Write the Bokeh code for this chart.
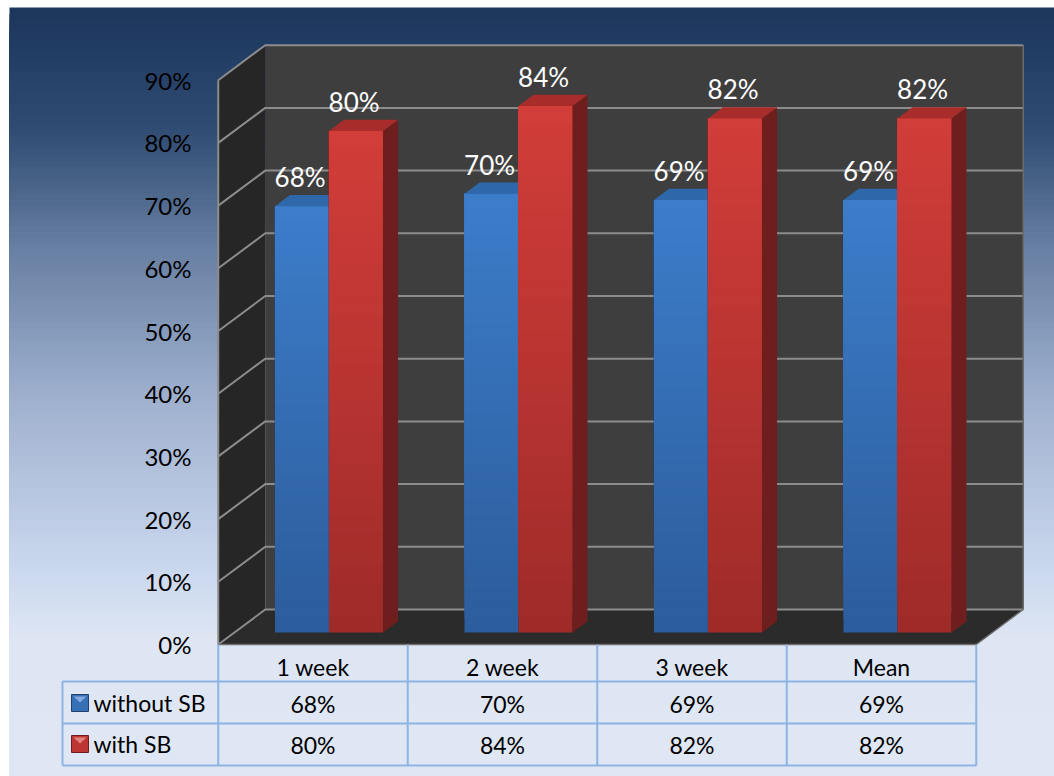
from bokeh.plotting import figure
from bokeh.models import Range1d
from bokeh.core.properties import value
from bokeh.embed import file_html
from bokeh.resources import INLINE

# ---------------- data ----------------
categories = ["1 week", "2 week", "3 week", "Mean"]
without_sb = [68, 70, 69, 69]
with_sb = [80, 84, 82, 82]
series_names = ["without SB", "with SB"]
y_ticks = [0, 10, 20, 30, 40, 50, 60, 70, 80, 90]
y_max = 90

# ---------------- geometry (pixel <-> data) ----------------
W, H = 1054, 776
PXX = 189.5      # px per category
PXY = 6.27       # px per percent
X0, Y0 = 312.5, 644.0   # px of category 0 centre / 0% on the front plane
DX, DY = 47 / PXX, 35 / PXY   # full-depth offset in data units
D0, D1 = 0.34, 0.66           # bar depth span
BAR_W = 54 / PXX
FONT = value("Lato")


def px(xp):
    return (xp - X0) / PXX


def py(yp):
    return (Y0 - yp) / PXY


def mix(c1, c2, t):
    return "#%02x%02x%02x" % tuple(int(round(a + (b - a) * t)) for a, b in zip(c1, c2))


p = figure(width=W, height=H, output_backend="svg", toolbar_location=None,
           x_range=Range1d(px(0), px(W)), y_range=Range1d(py(H), py(0)),
           x_axis_location=None, y_axis_location=None, min_border=0,
           background_fill_color="white", border_fill_color="white")
p.grid.visible = False
p.outline_line_color = None

# ---------------- background gradient (nested strips, no seams) ----------------
stops = [(7, (27, 53, 91)), (130, (48, 76, 114)), (250, (104, 128, 163)), (400, (160, 177, 207)),
         (560, (200, 214, 237)), (640, (222, 230, 244)), (776, (223, 231, 244))]
bl, br, bb, bt, bc = [], [], [], [], []
n = 120
for k in range(n):
    y_a = 7 + (H - 7) * k / n
    y_b = 7 + (H - 7) * (k + 1) / n
    ym = (y_a + y_b) / 2
    for (s0, c0), (s1, c1) in zip(stops[:-1], stops[1:]):
        if s0 <= ym <= s1:
            col = mix(c0, c1, (ym - s0) / (s1 - s0))
            break
    bl.append(px(9)); br.append(px(W + 2)); bt.append(py(y_a)); bb.append(py(H + 2)); bc.append(col)
p.quad(left=bl, right=br, bottom=bb, top=bt, fill_color=bc, line_color=None)

# ---------------- walls ----------------
xL = -0.5
xR = len(categories) - 0.5
p.patch([xL, xL + DX, xL + DX, xL], [0, DY, y_max + DY, y_max], fill_color="#262626", line_color=None)
p.patch([xL + DX, xR + DX, xR + DX, xL + DX], [DY, DY, y_max + DY, y_max + DY], fill_color="#3e3e3e",
        line_color=None)
p.patch([xL, xR, xR + DX, xL + DX], [0, 0, DY, DY], fill_color="#2b2b2b", line_color=None)

# gridlines
gx, gy = [], []
for t in y_ticks:
    gx.append([xL, xL + DX, xR + DX])
    gy.append([t, t + DY, t + DY])
p.multi_line(gx, gy, line_color="#8c8c8c", line_width=2)
p.line([xL, xL], [0, y_max], line_color="#8c8c8c", line_width=2)
p.line([xR + DX, xR + DX], [DY, y_max + DY], line_color="#6a6a6a", line_width=1.5)
p.line([xL, xR, xR + DX], [0, 0, DY], line_color="#6e6e6e", line_width=1.5)

# ---------------- bars ----------------
face = {
    0: dict(top=(60, 125, 202), bot=(44, 92, 155), cap="#2f67ab", side=(36, 74, 125)),
    1: dict(top=(210, 61, 57), bot=(158, 43, 41), cap="#a82d2a", side=(122, 34, 32)),
}
for s, vals in enumerate([without_sb, with_sb]):
    f = face[s]
    ql, qr, qb, qt, qc = [], [], [], [], []
    pxs, pys, pcs = [], [], []
    for i, v in enumerate(vals):
        xl = i + D0 * DX + (s - 1) * BAR_W
        xr = xl + BAR_W
        base = D0 * DY
        top = v + D0 * DY
        ddx, ddy = (D1 - D0) * DX, (D1 - D0) * DY
        m = 30
        for k in range(m):
            y_a = base + (top - base) * k / m
            t = 1 - (k + 0.5) / m
            ql.append(xl); qr.append(xr)
            qb.append(y_a); qt.append(top)
            qc.append(mix(f["top"], f["bot"], t))
        # side face
        pxs.append([xr, xr + ddx, xr + ddx, xr]); pys.append([base, base + ddy, top + ddy, top])
        pcs.append(mix(f["side"], (0, 0, 0), 0.1))
        # top face
        pxs.append([xl, xr, xr + ddx, xl + ddx]); pys.append([top, top, top + ddy, top + ddy])
        pcs.append(f["cap"])
    p.quad(left=ql, right=qr, bottom=qb, top=qt, fill_color=qc, line_color=None)
    p.patches(pxs, pys, fill_color=pcs, line_color=None)

# data labels
for s, vals in enumerate([without_sb, with_sb]):
    lx = [i + D0 * DX + (s - 0.5) * BAR_W - 0.01 for i in range(len(vals))]
    ly = [v + D1 * DY for v in vals]
    p.text(x=lx, y=ly, text=["%d%%" % v for v in vals], text_font=FONT,
           text_font_size="26px", text_align="center", text_baseline="middle",
           text_color="white", y_offset=-18)

# y tick labels
p.text(x=[px(191)] * len(y_ticks), y=y_ticks, text=["%d%%" % t for t in y_ticks],
       text_font=FONT, text_font_size="24px", text_align="right", text_baseline="middle",
       text_color="black")

# ---------------- data table ----------------
tbl = "#8db4e2"
row_lines = [681, 723, 765]
legend_left = 62
hx = [[px(legend_left), xR] for _ in row_lines]
hy = [[py(r), py(r)] for r in row_lines]
p.multi_line(hx, hy, line_color=tbl, line_width=2)
vx, vy = [], []
for j in range(len(categories) + 1):
    xx = xL + j
    vx.append([xx, xx]); vy.append([0, py(765)])
vx.append([px(legend_left)] * 2); vy.append([py(681), py(765)])
p.multi_line(vx, vy, line_color=tbl, line_width=2)

cx = list(range(len(categories)))
p.text(x=cx, y=[py(666)] * 4, text=categories, text_font=FONT, text_font_size="23px",
       text_align="center", text_baseline="middle", text_color="black")
p.text(x=cx, y=[py(703.5)] * 4, text=["%d%%" % v for v in without_sb], text_font=FONT,
       text_font_size="23px", text_align="center", text_baseline="middle", text_color="black")
p.text(x=cx, y=[py(744)] * 4, text=["%d%%" % v for v in with_sb], text_font=FONT,
       text_font_size="23px", text_align="center", text_baseline="middle", text_color="black")

# legend keys
key_y = [694, 735]
for s, ky in enumerate(key_y):
    f = face[s]
    p.quad(left=[px(71)], right=[px(88)], top=[py(ky)], bottom=[py(ky + 17)],
           fill_color=mix(f["top"], f["bot"], 0.4), line_color=mix(f["bot"], (0, 0, 0), 0.3), line_width=1)
    p.patch([px(73), px(86), px(79.5)], [py(ky + 2), py(ky + 2), py(ky + 8)],
            fill_color=mix(f["top"], (255, 255, 255), 0.35), line_color=None)
p.text(x=[px(93)] * 2, y=[py(702), py(743.5)], text=series_names, text_font=FONT,
       text_font_size="23px", text_align="left", text_baseline="middle", text_color="black")

open("out.html", "w").write(file_html(p, INLINE))
